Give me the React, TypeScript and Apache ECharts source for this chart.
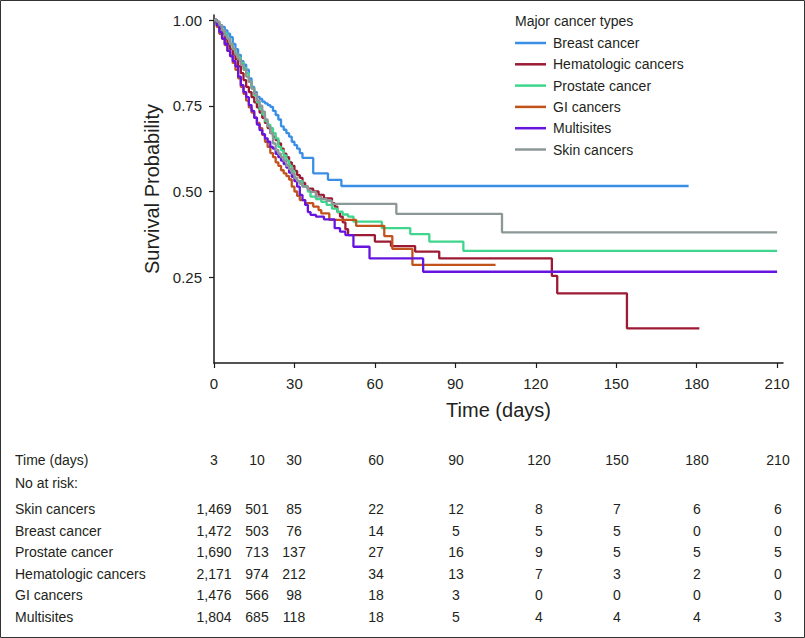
import React, { useEffect, useRef } from "react";
import * as echarts from "echarts";

// ---- Survival curves (time in days, survival probability) ----
const breastT = [0,1,2,3,4,5,6,7,8,9,10,11,12,13,14,15,16,17,18,19,20,21,22,23,24,25,26,27,28,29,30,31,32,33,37,42.5,47.5,177];
const breastS = [1,0.995,0.985,0.98,0.97,0.96,0.95,0.93,0.915,0.898,0.88,0.87,0.855,0.83,0.805,0.79,0.776,0.77,0.762,0.757,0.752,0.747,0.735,0.723,0.71,0.69,0.68,0.67,0.66,0.645,0.635,0.625,0.612,0.598,0.553,0.534,0.516,0.516];

const hemaT = [0,1,2,3,4,5,6,7,8,9,10,11,12,13,14,15,16,17,18,19,20,21,22,23,24,25,26,27,28,29,30,31,32,33,34,35,37,39,41,44,45,46,47,48,49,50,60,66,75,84,126,128,154,181];
const hemaS = [1,0.99,0.975,0.96,0.945,0.93,0.915,0.9,0.885,0.865,0.845,0.825,0.805,0.79,0.775,0.76,0.745,0.73,0.715,0.7,0.685,0.67,0.66,0.65,0.64,0.625,0.61,0.6,0.585,0.575,0.56,0.548,0.54,0.525,0.515,0.508,0.5,0.49,0.48,0.466,0.456,0.44,0.427,0.41,0.39,0.373,0.354,0.341,0.325,0.305,0.254,0.203,0.101,0.101];

const prostT = [0,1,2,3,4,5,6,7,8,9,10,11,12,13,14,15,16,17,18,19,20,21,22,23,24,25,26,27,28,29,30,31,33,35,36,38,40,42,44,46,48,50,52,62.6,73.2,80.3,93,210];
const prostS = [1,0.99,0.98,0.97,0.96,0.945,0.93,0.915,0.9,0.89,0.875,0.86,0.845,0.82,0.8,0.78,0.76,0.74,0.725,0.705,0.695,0.685,0.67,0.655,0.63,0.62,0.605,0.59,0.575,0.56,0.54,0.53,0.515,0.5,0.485,0.478,0.47,0.461,0.45,0.441,0.433,0.427,0.412,0.393,0.376,0.354,0.327,0.327];

const giT = [0,1,2,3,4,5,6,7,8,9,10,11,12,13,14,15,16,17,18,19,20,21,22,23,24,25,26,27,28,29,30,31,32,34,37,39,40,43,53,63.5,66.5,74,105];
const giS = [1,0.98,0.96,0.945,0.927,0.91,0.895,0.875,0.855,0.83,0.805,0.785,0.765,0.745,0.73,0.715,0.7,0.685,0.665,0.645,0.63,0.612,0.6,0.585,0.575,0.562,0.553,0.545,0.535,0.514,0.5,0.487,0.475,0.466,0.456,0.446,0.436,0.417,0.4,0.37,0.333,0.286,0.286];

const multiT = [0,1,2,3,4,5,6,7,8,9,10,11,12,13,14,15,16,17,18,19,20,21,22,23,24,25,26,27,28,29,30,31,32,33,34,35,36,38,41,45,47,49,52,58,78,210];
const multiS = [1,0.985,0.965,0.946,0.93,0.91,0.895,0.88,0.865,0.835,0.81,0.79,0.775,0.752,0.735,0.715,0.695,0.679,0.667,0.655,0.645,0.63,0.625,0.61,0.6,0.59,0.58,0.57,0.555,0.543,0.53,0.514,0.49,0.475,0.461,0.44,0.432,0.427,0.419,0.393,0.383,0.373,0.339,0.305,0.266,0.266];

const skinT = [0,1,2,3,4,5,6,7,8,9,10,11,12,13,14,15,16,17,18,19,20,21,22,23,24,25,26,27,28,29,30,31,32,33,35,36,38,40,42,44,68,107.4,210];
const skinS = [1,0.995,0.985,0.97,0.955,0.945,0.93,0.915,0.9,0.885,0.87,0.855,0.835,0.82,0.8,0.785,0.765,0.75,0.733,0.71,0.69,0.67,0.64,0.621,0.61,0.6,0.59,0.575,0.565,0.553,0.54,0.53,0.522,0.514,0.505,0.499,0.485,0.478,0.473,0.464,0.435,0.381,0.381];

const seriesNames = ["Breast cancer", "Hematologic cancers", "Prostate cancer", "GI cancers", "Multisites", "Skin cancers"];
const seriesColors = ["#3a8ee6", "#9c1a33", "#3dd68c", "#c2521b", "#6614e0", "#8c9797"];
const seriesTimes = [breastT, hemaT, prostT, giT, multiT, skinT];
const seriesSurv = [breastS, hemaS, prostS, giS, multiS, skinS];

// ---- Axis ticks ----
const xTicks = [0, 30, 60, 90, 120, 150, 180, 210];
const yTicks = [0.25, 0.5, 0.75, 1.0];

// ---- Number at risk table ----
const riskTimes = ["3", "10", "30", "60", "90", "120", "150", "180", "210"];
const riskRowNames = ["Skin cancers", "Breast cancer", "Prostate cancer", "Hematologic cancers", "GI cancers", "Multisites"];
const riskSkin = [1469, 501, 85, 22, 12, 8, 7, 6, 6];
const riskBreast = [1472, 503, 76, 14, 5, 5, 5, 0, 0];
const riskProstate = [1690, 713, 137, 27, 16, 9, 5, 5, 5];
const riskHema = [2171, 974, 212, 34, 13, 7, 3, 2, 0];
const riskGI = [1476, 566, 98, 18, 3, 0, 0, 0, 0];
const riskMulti = [1804, 685, 118, 18, 5, 4, 4, 4, 3];
const riskRows = [riskSkin, riskBreast, riskProstate, riskHema, riskGI, riskMulti];

const FONT = "'Liberation Sans', Arial, Helvetica, sans-serif";
const TXT = "#231f20";

export default function App() {
  const ref = useRef<HTMLDivElement>(null);

  useEffect(() => {
    if (!ref.current) return;
    const chart = echarts.init(ref.current, null, { renderer: "svg" });

    const series = seriesNames.map((name, i) => ({
      name,
      type: "line",
      step: "end",
      showSymbol: false,
      symbol: "none",
      data: seriesTimes[i].map((t, k) => [t, seriesSurv[i][k]]),
      lineStyle: { color: seriesColors[i], width: 2.3 },
      itemStyle: { color: seriesColors[i] },
      z: 2 + i,
    }));

    // table layout
    const colX = [214, 257, 294, 376, 456, 539, 617, 697, 778];
    const headerY = 460;
    const subY = 483;
    const rowY = [509, 531, 552, 573.5, 595, 616.5];
    const font = `14px ${FONT}`;
    const tableTexts: any[] = [];
    tableTexts.push({
      type: "text", x: 15, y: headerY,
      style: { text: "Time (days)", font, fill: TXT, textVerticalAlign: "middle" },
    });
    riskTimes.forEach((t, j) => {
      tableTexts.push({
        type: "text", x: colX[j], y: headerY,
        style: { text: t, font, fill: TXT, textAlign: "center", textVerticalAlign: "middle" },
      });
    });
    tableTexts.push({
      type: "text", x: 15, y: subY,
      style: { text: "No at risk:", font, fill: TXT, textVerticalAlign: "middle" },
    });
    riskRowNames.forEach((n, r) => {
      tableTexts.push({
        type: "text", x: 15, y: rowY[r],
        style: { text: n, font, fill: TXT, textVerticalAlign: "middle" },
      });
      riskRows[r].forEach((v, j) => {
        tableTexts.push({
          type: "text", x: colX[j], y: rowY[r],
          style: { text: v.toLocaleString("en-US"), font, fill: TXT, textAlign: "center", textVerticalAlign: "middle" },
        });
      });
    });

    chart.setOption({
      animation: false,
      backgroundColor: "#ffffff",
      grid: { left: 214, right: 22, top: 15, bottom: 275, containLabel: false },
      legend: {
        data: seriesNames,
        orient: "vertical",
        left: 515,
        top: 35,
        padding: 0,
        icon: "rect",
        itemWidth: 31,
        itemHeight: 2.5,
        itemGap: 5.3,
        textStyle: { fontSize: 14, fontFamily: FONT, color: TXT, lineHeight: 16, padding: [0, 0, 0, 2] },
      },
      xAxis: {
        type: "value",
        min: 0,
        max: 212.2,
        name: "Time (days)",
        nameLocation: "middle",
        nameGap: 37,
        nameTextStyle: { fontSize: 20, fontFamily: FONT, color: TXT },
        axisLine: { show: true, lineStyle: { color: "#1a1a1a", width: 1.5 } },
        axisTick: { show: true, inside: false, length: 5, customValues: xTicks, lineStyle: { color: "#1a1a1a", width: 1.2 } },
        axisLabel: { fontSize: 15, fontFamily: FONT, color: TXT, margin: 13, customValues: xTicks },
        splitLine: { show: false },
      },
      yAxis: {
        type: "value",
        min: 0,
        max: 1.0146,
        name: "Survival Probability",
        nameLocation: "middle",
        nameGap: 49,
        nameTextStyle: { fontSize: 20, fontFamily: FONT, color: TXT },
        axisLine: { show: true, lineStyle: { color: "#1a1a1a", width: 1.5 } },
        axisTick: { show: true, inside: false, length: 5, customValues: yTicks, lineStyle: { color: "#1a1a1a", width: 1.2 } },
        axisLabel: {
          fontSize: 15, fontFamily: FONT, color: TXT, margin: 12, customValues: yTicks,
          formatter: (v: number) => Number(v).toFixed(2),
        },
        splitLine: { show: false },
      },
      graphic: [
        {
          type: "rect",
          shape: { x: 0.5, y: 0.5, width: 804, height: 637 },
          style: { fill: "none", stroke: "#333333", lineWidth: 1 },
          silent: true,
        },
        {
          type: "text", x: 515, y: 21,
          style: { text: "Major cancer types", font: `14px ${FONT}`, fill: TXT, textVerticalAlign: "middle" },
        },
        ...tableTexts,
      ],
      series,
    });

    return () => chart.dispose();
  }, []);

  return (
    <div
      ref={ref}
      style={{ position: "absolute", left: 0, top: 0, width: 805, height: 638, background: "#fff" }}
    />
  );
}
